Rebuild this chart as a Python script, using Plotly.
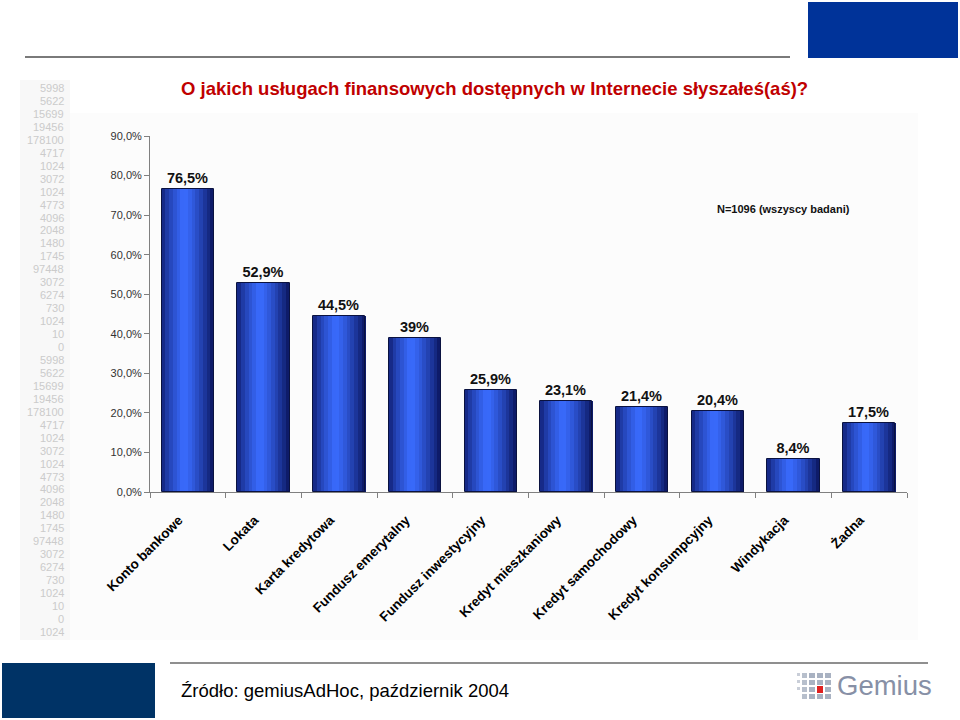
import plotly.graph_objects as go

# ---------------- data ----------------
categories = ["Konto bankowe", "Lokata", "Karta kredytowa", "Fundusz emerytalny",
              "Fundusz inwestycyjny", "Kredyt mieszkaniowy", "Kredyt samochodowy",
              "Kredyt konsumpcyjny", "Windykacja", "Żadna"]
values = [76.5, 52.9, 44.5, 39.0, 25.9, 23.1, 21.4, 20.4, 8.4, 17.5]
value_labels = ["76,5%", "52,9%", "44,5%", "39%", "25,9%", "23,1%", "21,4%",
                "20,4%", "8,4%", "17,5%"]
side_numbers = ["5998", "5622", "15699", "19456", "178100", "4717", "1024", "3072",
                "1024", "4773", "4096", "2048", "1480", "1745", "97448", "3072",
                "6274", "730", "1024", "10", "0",
                "5998", "5622", "15699", "19456", "178100", "4717", "1024", "3072",
                "1024", "4773", "4096", "2048", "1480", "1745", "97448", "3072",
                "6274", "730", "1024", "10", "0", "1024"]
title_text = "O jakich usługach finansowych dostępnych w Internecie słyszałeś(aś)?"
note_text = "N=1096 (wszyscy badani)"
source_text = "Źródło: gemiusAdHoc, październik 2004"

FONT = "Arial, Liberation Sans, sans-serif"

# plot area in pixels
L, R, T, B = 150, 907, 136, 492
W, H = 960, 720


def xp(x):
    return (x - L) / (R - L)


def yp(y):
    return (B - y) / (B - T)


def lerp(c1, c2, t):
    return tuple(int(round(a + (b - a) * t)) for a, b in zip(c1, c2))


dark_l = (14, 28, 110)
bright = (58, 108, 255)
dark_r = (10, 20, 92)

fig = go.Figure()

bar_w = 0.69
n_slices = 14
sw = bar_w / n_slices
peak = 0.42
for i in range(n_slices):
    t = (i + 0.5) / n_slices
    if t <= peak:
        c = lerp(dark_l, bright, (t / peak) ** 0.7)
    else:
        c = lerp(bright, dark_r, ((t - peak) / (1 - peak)) ** 1.3)
    fig.add_trace(go.Bar(
        x=categories, y=values,
        width=sw + 0.004, offset=-bar_w / 2 + i * sw,
        marker=dict(color="rgb(%d,%d,%d)" % c, line=dict(width=0)),
        hoverinfo="skip", showlegend=False,
    ))

# outline + labels
fig.add_trace(go.Bar(
    x=categories, y=values, width=bar_w, offset=-bar_w / 2,
    marker=dict(color="rgba(0,0,0,0)", line=dict(color="#0a1240", width=1)),
    text=value_labels, textposition="outside",
    textfont=dict(family=FONT, size=14.5, color="#111", weight="bold"),
    cliponaxis=False, showlegend=False,
))

shapes = [
    # chart background panels (very faint)
    dict(type="rect", xref="paper", yref="paper", x0=xp(70), x1=xp(918), y0=yp(640), y1=yp(113),
         fillcolor="#fcfcfc", line=dict(width=0), layer="below"),
    dict(type="rect", xref="paper", yref="paper", x0=xp(20), x1=xp(70), y0=yp(640), y1=yp(80),
         fillcolor="#f8f8f8", line=dict(width=0), layer="below"),
    # top rule
    dict(type="line", xref="paper", yref="paper", x0=xp(25), x1=xp(790), y0=yp(57), y1=yp(57),
         line=dict(color="#7a7a7a", width=2)),
    # top right blue block
    dict(type="rect", xref="paper", yref="paper", x0=xp(808), x1=xp(958), y0=yp(58), y1=yp(2),
         fillcolor="#003399", line=dict(width=0)),
    # bottom left navy block
    dict(type="rect", xref="paper", yref="paper", x0=xp(2), x1=xp(155), y0=yp(718), y1=yp(663),
         fillcolor="#003366", line=dict(width=0)),
    # bottom rule
    dict(type="line", xref="paper", yref="paper", x0=xp(170), x1=xp(928), y0=yp(663), y1=yp(663),
         line=dict(color="#6a6a6a", width=1.5)),
]

# Gemius logo squares
logo_cells = [
    (797, 673, 3, 3, "#c9ced8"), (797, 680, 3, 3, "#c9ced8"), (797, 687, 3, 3, "#c9ced8"),
    (802, 673, 5, 5, "#b7bfcc"), (802, 680, 5, 5, "#b7bfcc"), (802, 687, 5, 5, "#b7bfcc"), (802, 694, 5, 5, "#b7bfcc"),
    (809, 673, 6, 5, "#a9b2c2"), (809, 680, 6, 5, "#a9b2c2"), (809, 687, 6, 5, "#a9b2c2"), (809, 694, 6, 5, "#a9b2c2"),
    (817, 673, 6, 5, "#a9b2c2"), (817, 680, 6, 5, "#a9b2c2"), (817, 686, 6, 7, "#e02020"), (817, 694, 6, 5, "#a9b2c2"),
    (825, 673, 6, 5, "#a9b2c2"), (825, 680, 6, 5, "#a9b2c2"), (825, 687, 6, 5, "#a9b2c2"), (825, 694, 6, 5, "#a9b2c2"),
]
for (x0, y0, w, h, col) in logo_cells:
    shapes.append(dict(type="rect", xref="paper", yref="paper",
                       x0=xp(x0), x1=xp(x0 + w), y0=yp(y0 + h), y1=yp(y0),
                       fillcolor=col, line=dict(width=0)))

annotations = [
    dict(text="<b>" + title_text + "</b>", xref="paper", yref="paper",
         x=xp(494), y=yp(89), showarrow=False, xanchor="center", yanchor="middle",
         font=dict(family=FONT, size=18.5, color="#c00000")),
    dict(text="<b>" + note_text + "</b>", xref="paper", yref="paper",
         x=xp(783), y=yp(209), showarrow=False, xanchor="center", yanchor="middle",
         font=dict(family=FONT, size=11, color="#111")),
    dict(text=source_text, xref="paper", yref="paper",
         x=xp(179), y=yp(690), showarrow=False, xanchor="left", yanchor="middle",
         font=dict(family=FONT, size=18.5, color="#000")),
    dict(text="Gemius", xref="paper", yref="paper",
         x=xp(835), y=yp(685), showarrow=False, xanchor="left", yanchor="middle",
         font=dict(family=FONT, size=27.5, color="#8790a6")),
]
for i, num in enumerate(side_numbers):
    annotations.append(dict(
        text=num, xref="paper", yref="paper", x=xp(66), y=yp(88 + i * 12.95),
        showarrow=False, xanchor="right", yanchor="middle",
        font=dict(family=FONT, size=11, color="#cbcbcb")))

fig.update_layout(
    width=W, height=H,
    margin=dict(l=L, r=W - R, t=T, b=H - B, pad=0),
    paper_bgcolor="white", plot_bgcolor="rgba(0,0,0,0)",
    barmode="overlay", bargap=0,
    separators=", ",
    showlegend=False,
    shapes=shapes, annotations=annotations,
    font=dict(family=FONT),
)
fig.update_xaxes(
    type="category", showgrid=False, showline=True, linecolor="#808080", linewidth=1,
    ticks="outside", ticklen=5, tickcolor="#808080", tickson="boundaries",
    tickangle=-45, tickfont=dict(family=FONT, size=13.5, color="#000", weight="bold"),
    ticklabelstandoff=14, ticklabelshift=-9,
    range=[-0.5, len(categories) - 0.5], fixedrange=True,
)
fig.update_yaxes(
    range=[0, 90], dtick=10, tickformat=".1f", ticksuffix="%",
    showgrid=False, showline=True, linecolor="#808080", linewidth=1,
    ticks="outside", ticklen=5, tickcolor="#808080",
    tickfont=dict(family=FONT, size=11, color="#333"), zeroline=False, fixedrange=True,
)

fig.write_html("out.html", config={"displayModeBar": False},
               post_script="document.body.style.margin='0';document.body.style.overflow='hidden';")
